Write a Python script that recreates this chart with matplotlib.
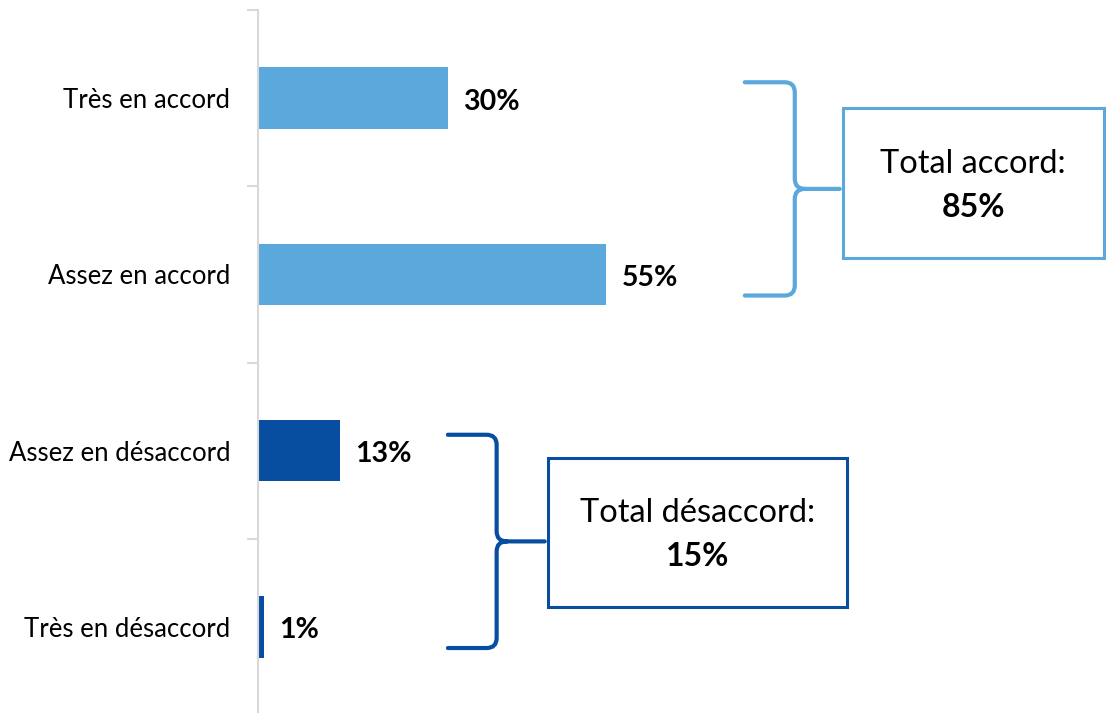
import numpy as np
import matplotlib.pyplot as plt
from matplotlib.path import Path
from matplotlib.patches import PathPatch, Rectangle

plt.rcParams['font.family'] = ['Lato', 'DejaVu Sans']

categories = ['Très en accord', 'Assez en accord', 'Assez en désaccord', 'Très en désaccord']
values = [30, 55, 13, 1]
colors = ['#5BA8DC', '#5BA8DC', '#074EA1', '#074EA1']

group_labels = ['Total accord:', 'Total désaccord:']
group_totals = [85, 15]
group_rows = [(0, 1), (2, 3)]
group_colors = ['#5BA8DC', '#074EA1']

fig = plt.figure(figsize=(11.06, 7.13), dpi=100)
ax = fig.add_axes([258 / 1106, -2 / 713, 633 / 1106, 705 / 713])

y = np.arange(len(categories))
ax.barh(y, values, height=0.35, color=colors)
ax.set_xlim(0, 100)
ax.set_ylim(len(categories) - 0.5, -0.5)

for yi, v in zip(y, values):
    ax.text(v + 2.4, yi + 0.02, f'{v}%', va='center', ha='left',
            fontsize=20.5, fontweight='bold', color='#000000')

# category labels, ticks sit on the boundaries between rows
ax.set_yticks(y)
ax.set_yticklabels(categories, fontsize=18.5)
ax.tick_params(axis='y', which='major', length=0, pad=20)
ax.set_yticks(np.arange(-0.5, len(categories), 1.0), minor=True)
ax.tick_params(axis='y', which='minor', length=8, width=1.5, color='#D9D9D9')
ax.set_xticks([])
for s in ['top', 'right', 'bottom']:
    ax.spines[s].set_visible(False)
ax.spines['left'].set_color('#D9D9D9')
ax.spines['left'].set_linewidth(1.5)


def brace(x0, xv, xtip, ytop, ybot, color):
    rx, ry = 1.6, 0.057
    ymid = (ytop + ybot) / 2
    verts = [(x0, ytop), (xv - rx, ytop), (xv, ytop), (xv, ytop + ry),
             (xv, ymid - ry), (xv, ymid), (xv + rx, ymid), (xtip, ymid),
             (xv + rx, ymid), (xv, ymid), (xv, ymid + ry),
             (xv, ybot - ry), (xv, ybot), (xv - rx, ybot), (x0, ybot)]
    codes = [Path.MOVETO, Path.LINETO, Path.CURVE3, Path.CURVE3,
             Path.LINETO, Path.CURVE3, Path.CURVE3, Path.LINETO,
             Path.MOVETO, Path.CURVE3, Path.CURVE3,
             Path.LINETO, Path.CURVE3, Path.CURVE3, Path.LINETO]
    ax.add_patch(PathPatch(Path(verts, codes), facecolor='none', edgecolor=color,
                           lw=3, clip_on=False, capstyle='round', joinstyle='round'))


brace_x = [(76.9, 84.8, 91.9), (30.0, 37.7, 45.3)]
box_x = [(92.4, 133.6), (45.8, 93.0)]
box_y = [(0.056, 0.907), (2.04, 2.887)]

for label, total, (r0, r1), c, (bx0, bxv, bxt), (kx0, kx1), (ky0, ky1) in zip(
        group_labels, group_totals, group_rows, group_colors, brace_x, box_x, box_y):
    brace(bx0, bxv, bxt, r0 - 0.09, r1 + 0.12, c)
    ax.add_patch(Rectangle((kx0, ky0), kx1 - kx0, ky1 - ky0, facecolor='white',
                           edgecolor=c, lw=2.2, clip_on=False))
    cx = (kx0 + kx1) / 2
    cy = (ky0 + ky1) / 2
    ax.text(cx, cy - 0.11, label, ha='center', va='center',
            fontsize=23.5, color='#000000', clip_on=False)
    ax.text(cx, cy + 0.14, f'{total}%', ha='center', va='center',
            fontsize=23, fontweight='bold', color='#000000', clip_on=False)

fig.savefig('out.png', dpi=100)
